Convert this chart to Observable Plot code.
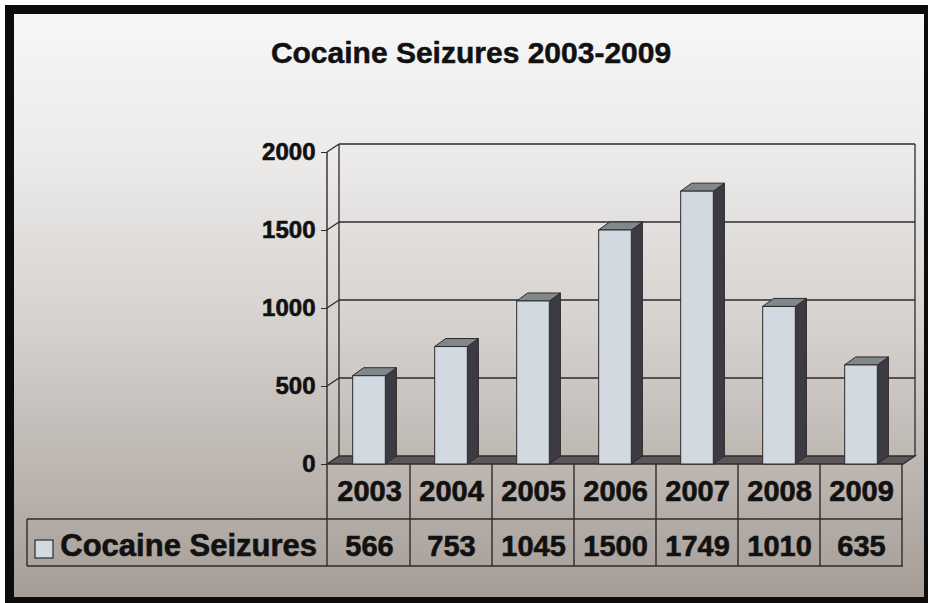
<!DOCTYPE html>
<html><head><meta charset="utf-8">
<script src="https://cdn.jsdelivr.net/npm/d3@7"></script>
<script src="https://cdn.jsdelivr.net/npm/@observablehq/plot@0.6"></script>
<style>
html,body{margin:0;padding:0;background:#fff;}
#page{position:relative;width:928px;height:603px;overflow:hidden;background:#fff;font-family:"Liberation Sans",Arial,sans-serif;}
#panel{position:absolute;left:5px;top:5px;right:0;bottom:0;border-style:solid;border-color:#0c0c0c;border-width:9px 4px 6px 9px;background:linear-gradient(to bottom,#f7f7f7 0%,#ebeae9 25%,#d4d0cd 55%,#a69d96 100%);}
#title{position:absolute;left:221px;width:500px;top:36px;text-align:center;font-size:30px;font-weight:bold;line-height:34px;color:#111;white-space:nowrap;-webkit-text-stroke:0.5px #111;}
#chart{position:absolute;left:0;top:0;}
#chart text{stroke:#111;stroke-width:0.6px;}
</style></head>
<body><div id="page"><div id="panel"></div><div id="title">Cocaine Seizures 2003-2009</div><div id="chart"></div></div>
<script>
const years = ["2003","2004","2005","2006","2007","2008","2009"];
const seizures = [566, 753, 1045, 1500, 1749, 1010, 635];
const yTicks = [0, 500, 1000, 1500, 2000];
const seriesName = "Cocaine Seizures";

const rows = years.map((year, i) => ({year, value: seizures[i]}));

const W = 928, H = 603;
const mL = 327, mR = 25, mT = 152, mB = 139;
const DX = 12, DY = -8, BDX = 11, BDY = -8;
const C = {front: "#d3d9e0", side: "#3c3b43", top: "#80888a", floor: "#5d5659", line: "#2e2a2a"};
const bw = (W - mL - mR) / years.length;
const inset = bw * 0.3;

function walls(index, scales, values, dim) {
  const y = scales.y;
  const x0 = dim.marginLeft, x1 = dim.width - dim.marginRight;
  const g = d3.create("svg:g").attr("fill", "none").attr("stroke", C.line).attr("stroke-width", 1.3);
  const y0 = y(0), yMax = y(yTicks[yTicks.length - 1]);
  for (const t of yTicks) {
    if (t === 0) continue;
    const yy = y(t);
    g.append("line").attr("x1", x0 + DX).attr("x2", x1 + DX).attr("y1", yy + DY).attr("y2", yy + DY);
    g.append("line").attr("x1", x0).attr("x2", x0 + DX).attr("y1", yy).attr("y2", yy + DY);
  }
  g.append("line").attr("x1", x0 + DX).attr("x2", x0 + DX).attr("y1", yMax + DY).attr("y2", y0 + DY);
  g.append("line").attr("x1", x1 + DX).attr("x2", x1 + DX).attr("y1", yMax + DY).attr("y2", y0 + DY);
  g.append("path").attr("fill", C.floor)
    .attr("d", `M${x0},${y0}L${x1},${y0}L${x1 + DX},${y0 + DY}L${x0 + DX},${y0 + DY}Z`);
  return g.node();
}

function barDepth(index, scales, values, dim) {
  const x = scales.x, y = scales.y, b = x.bandwidth();
  const g = d3.create("svg:g").attr("stroke", C.line).attr("stroke-width", 1).attr("stroke-linejoin", "round");
  rows.forEach(d => {
    const xl = x(d.year) + b * 0.3, xr = x(d.year) + b * 0.7, yt = y(d.value), yb = y(0);
    g.append("path").attr("fill", C.side)
      .attr("d", `M${xr},${yt}L${xr + BDX},${yt + BDY}L${xr + BDX},${yb + BDY}L${xr},${yb}Z`);
    g.append("path").attr("fill", C.top)
      .attr("d", `M${xl},${yt}L${xr},${yt}L${xr + BDX},${yt + BDY}L${xl + BDX},${yt + BDY}Z`);
  });
  return g.node();
}

function table(index, scales, values, dim) {
  const x = scales.x, y = scales.y, b = x.bandwidth();
  const x0 = dim.marginLeft, x1 = dim.width - dim.marginRight;
  const yTop = y(0), yMid = yTop + 55, yBot = yTop + 102, left = 27;
  const g = d3.create("svg:g");
  const lines = g.append("g").attr("stroke", C.line).attr("stroke-width", 1.4);
  lines.append("line").attr("x1", left).attr("x2", x1).attr("y1", yMid).attr("y2", yMid);
  lines.append("line").attr("x1", left).attr("x2", x1).attr("y1", yBot).attr("y2", yBot);
  lines.append("line").attr("x1", left).attr("x2", left).attr("y1", yMid).attr("y2", yBot);
  lines.append("line").attr("x1", x0).attr("x2", x0).attr("y1", y(yTicks[yTicks.length - 1])).attr("y2", yBot);
  years.forEach(yr => {
    const xb = x(yr) + b;
    lines.append("line").attr("x1", xb).attr("x2", xb).attr("y1", yTop).attr("y2", yBot);
  });
  g.append("rect").attr("x", 35).attr("y", yMid + 21).attr("width", 18).attr("height", 18)
    .attr("fill", C.front).attr("stroke", C.line).attr("stroke-width", 1.2);
  g.append("text").attr("x", x0 - 10).attr("y", (yMid + yBot) / 2 + 2).attr("dy", "0.36em")
    .attr("text-anchor", "end").attr("font-size", 31).attr("font-weight", "bold").attr("fill", "#111")
    .text(seriesName);
  return g.node();
}

const plot = Plot.plot({
  width: W, height: H,
  marginLeft: mL, marginRight: mR, marginTop: mT, marginBottom: mB,
  style: {fontFamily: "'Liberation Sans', Arial, sans-serif", fontWeight: "bold", background: "transparent", color: "#111", overflow: "visible"},
  x: {type: "band", domain: years, padding: 0, label: null},
  y: {domain: [0, 2000], label: null},
  marks: [
    walls,
    barDepth,
    Plot.barY(rows, {x: "year", y: "value", fill: C.front, stroke: C.line, strokeWidth: 1, insetLeft: inset, insetRight: inset}),
    Plot.axisY({ticks: yTicks, tickSize: 6, tickPadding: 6, fontSize: 24, tickFormat: d => String(d), stroke: C.line, label: null}),
    Plot.axisX({tickSize: 0, tickPadding: 16, fontSize: 29, label: null}),
    table,
    Plot.text(rows, {x: "year", text: d => String(d.value), frameAnchor: "bottom", dy: 91, fontSize: 29, fill: "#111"})
  ]
});
document.getElementById("chart").append(plot);
</script>
</body></html>
